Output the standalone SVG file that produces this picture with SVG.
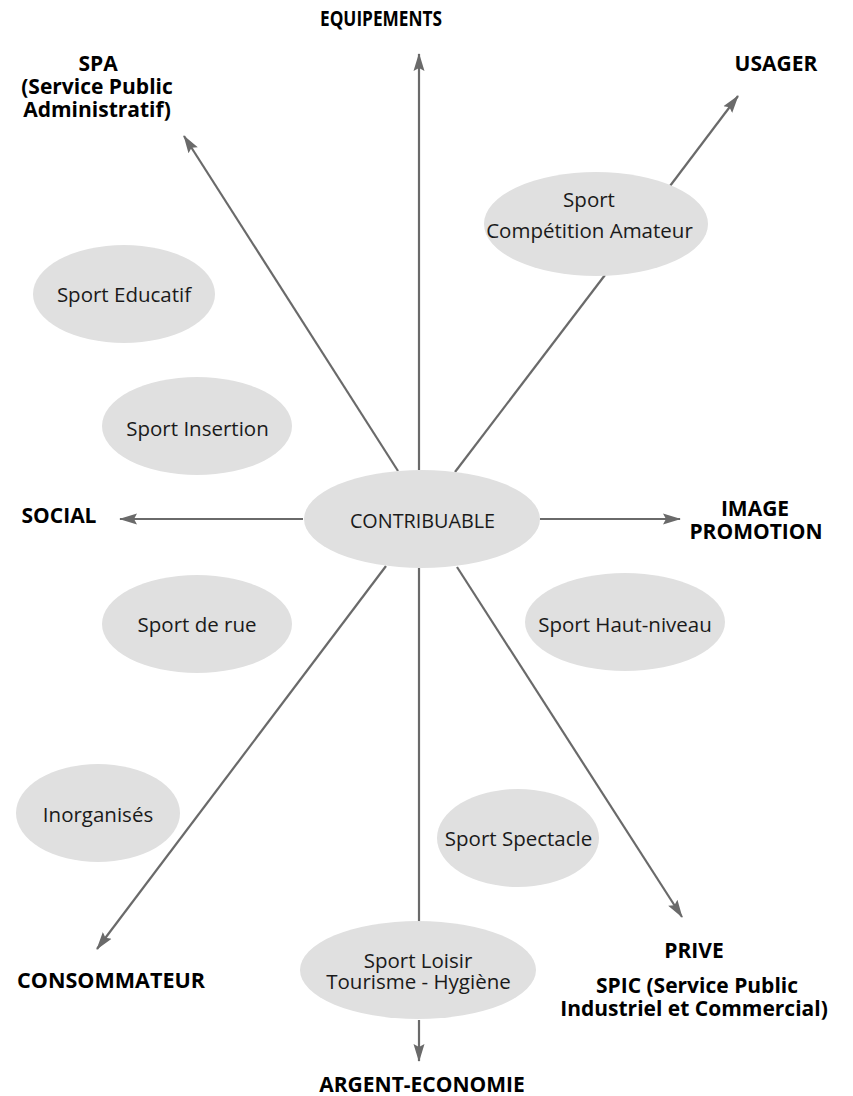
<svg xmlns="http://www.w3.org/2000/svg" width="853" height="1096" viewBox="0 0 853 1096">
<style>
text{font-family:"Open Sans","Noto Sans",sans-serif;text-anchor:middle;fill:#1a1a1a}
.n{font-size:20.5px}
.l{font-size:21px;font-weight:700;fill:#000}
ellipse{fill:#e0e0e0}
line{stroke:#6a6a6a;stroke-width:2.2;fill:none;marker-end:url(#a)}
line.p{marker-end:none}
</style>
<defs><marker id="a" viewBox="0 0 18 12" refX="17" refY="6" markerWidth="18" markerHeight="12" markerUnits="userSpaceOnUse" orient="auto"><path d="M0 0.5L18 6L0 11.5L3 6Z" fill="#6a6a6a"/></marker></defs>
<rect width="853" height="1096" fill="#fff"/>
<g id="connectors">
<line x1="419" y1="470" x2="419" y2="54"/>
<line x1="398" y1="471" x2="184" y2="136"/>
<line class="p" x1="455" y1="472" x2="605" y2="275"/>
<line x1="670" y1="186" x2="738" y2="96"/>
<line x1="303" y1="519" x2="120" y2="519"/>
<line x1="540" y1="519" x2="680" y2="519"/>
<line x1="386" y1="566" x2="97" y2="949"/>
<line x1="457" y1="567" x2="682" y2="917"/>
<line class="p" x1="419" y1="568" x2="419" y2="922"/>
<line x1="419" y1="1020" x2="419" y2="1061"/>
</g>
<g id="contribuable"><ellipse cx="422" cy="519" rx="118" ry="49"/><text class="n" x="422.5" y="528" style="font-size:19.8px">CONTRIBUABLE</text></g>
<g id="sport-competition"><ellipse cx="596" cy="224" rx="112" ry="52"/><text class="n" x="589" y="207">Sport</text><text class="n" x="589.5" y="238">Compétition Amateur</text></g>
<g id="sport-educatif"><ellipse cx="124" cy="294" rx="91" ry="49"/><text class="n" x="124" y="302">Sport Educatif</text></g>
<g id="sport-insertion"><ellipse cx="197" cy="426" rx="95" ry="49"/><text class="n" x="197.5" y="436">Sport Insertion</text></g>
<g id="sport-rue"><ellipse cx="197" cy="624" rx="95" ry="49"/><text class="n" x="197" y="632">Sport de rue</text></g>
<g id="sport-haut-niveau"><ellipse cx="625" cy="622" rx="100" ry="49"/><text class="n" x="625" y="632">Sport Haut-niveau</text></g>
<g id="inorganises"><ellipse cx="98" cy="813" rx="82" ry="49"/><text class="n" x="98" y="822">Inorganisés</text></g>
<g id="sport-spectacle"><ellipse cx="518" cy="838" rx="81" ry="49"/><text class="n" x="518.5" y="846">Sport Spectacle</text></g>
<g id="sport-loisir"><ellipse cx="418" cy="970" rx="118" ry="49"/><text class="n" x="418" y="968">Sport Loisir</text><text class="n" x="418.5" y="989">Tourisme - Hygiène</text></g>
<g id="labels">
<text class="l" x="381" y="26" textLength="122" lengthAdjust="spacingAndGlyphs">EQUIPEMENTS</text>
<text class="l" x="98" y="71">SPA</text><text class="l" x="97" y="94">(Service Public</text><text class="l" x="97" y="117">Administratif)</text>
<text class="l" x="776" y="71">USAGER</text>
<text class="l" x="59" y="523">SOCIAL</text>
<text class="l" x="755" y="516">IMAGE</text><text class="l" x="756" y="539">PROMOTION</text>
<text class="l" x="111" y="988" textLength="188" lengthAdjust="spacingAndGlyphs">CONSOMMATEUR</text>
<text class="l" x="694" y="958">PRIVE</text>
<text class="l" x="697" y="993">SPIC (Service Public</text><text class="l" x="694" y="1016">Industriel et Commercial)</text>
<text class="l" x="422" y="1092">ARGENT-ECONOMIE</text>
</g>
</svg>
